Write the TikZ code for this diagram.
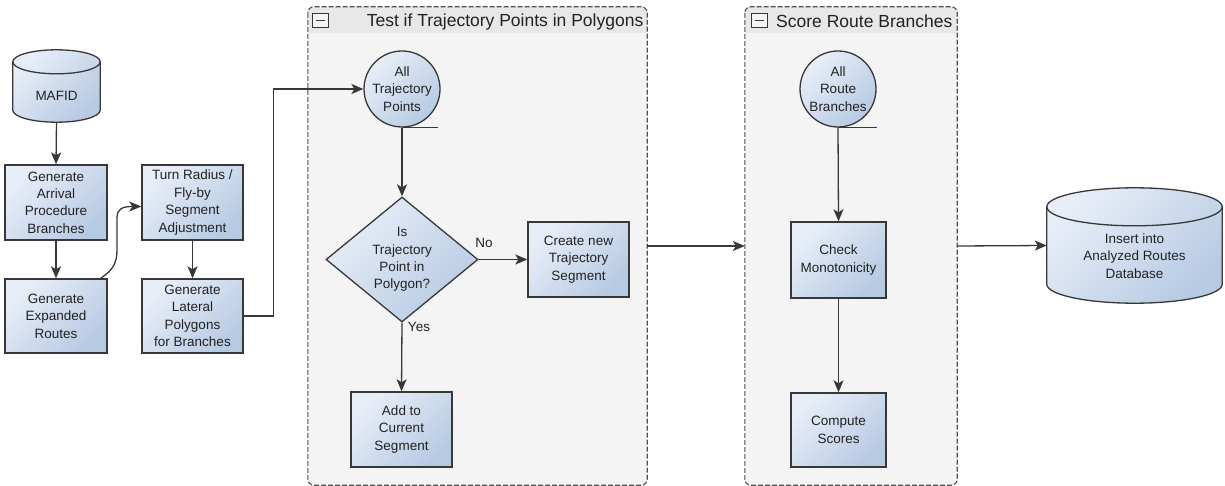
\documentclass[tikz,border=0pt]{standalone}
\usepackage{fontspec}
\setmainfont{Liberation Sans}
\usetikzlibrary{arrows.meta,shapes.geometric,calc}

\definecolor{ink}{HTML}{383838}
\definecolor{txt}{HTML}{222222}
\definecolor{fillA}{HTML}{E8EEF8}
\definecolor{fillB}{HTML}{B7CAE3}
\definecolor{grpbody}{HTML}{F4F4F4}
\definecolor{grphead}{HTML}{E8E8E8}
\definecolor{grpline}{HTML}{505050}

\tikzset{
  txtfont/.style={font=\fontsize{13.5}{17.4}\selectfont, text=txt},
  titlefont/.style={font=\fontsize{17.5}{20}\selectfont, text=txt, inner sep=0pt},
  shaded/.style={top color=fillA, bottom color=fillB, shading angle=45},
  procbox/.style={draw=ink, line width=1.4pt, shaded, txtfont, align=center,
    minimum width=101, minimum height=75, inner sep=0pt},
  datacirc/.style={circle, draw=ink, line width=1.3pt, shaded, txtfont, align=center,
    minimum size=76, inner sep=0pt},
  decision/.style={diamond, draw=ink, line width=1.3pt, shaded, txtfont, align=center,
    minimum width=152, minimum height=125, inner sep=0pt, aspect=1.216},
  cylarea/.style={minimum width=#1, inner sep=0pt},
  cylbody/.style={draw=ink, line width=1.3pt, shaded},
  grparea/.style={minimum width=#1, minimum height=478, inner sep=0pt},
  grpframe/.style={draw=grpline, line width=1.1pt, dash pattern=on 5pt off 2pt, rounded corners=6pt},
  minusbox/.style={draw=ink, line width=0.9pt, fill=grpbody, minimum width=16, minimum height=14,
    inner sep=0pt,
    path picture={\draw[ink, line width=1.8pt]
      ([xshift=-4.5pt]path picture bounding box.center) -- ([xshift=4.5pt]path picture bounding box.center);}},
  flow/.style={draw=ink, line width=1.3pt, -{Stealth[length=12pt,width=10pt,inset=3pt]}},
  tail/.style={draw=ink, line width=1.3pt},
}

% cylinder outline around a named area node; #2 is the radius of the end ellipses (pt)
\newcommand\cylshape[2]{%
  \path let \p1=(#1.north west), \p2=(#1.south east), \n1={(\x2-\x1)/2} in
    [cylbody] (\x1,\y1-#2pt) -- (\x1,\y2+#2pt)
      arc[start angle=180,end angle=360,x radius=\n1,y radius=#2pt]
      -- (\x2,\y1-#2pt)
      arc[start angle=0,end angle=180,x radius=\n1,y radius=#2pt] -- cycle;
  \path let \p1=(#1.north west), \p2=(#1.south east), \n1={(\x2-\x1)/2} in
    [draw=ink, line width=1.3pt] (\x1,\y1-#2pt)
      arc[start angle=180,end angle=360,x radius=\n1,y radius=#2pt];
}

\begin{document}
\begin{tikzpicture}[x=1pt,y=1pt]
\useasboundingbox (0,0) rectangle (1225,-486);

% ---- group containers ----
\node[grparea=339] (g1) at (477.5,-246) {};
\node[grparea=212] (g2) at (851,-246) {};
\foreach \g in {g1,g2}{
  \fill[grpbody, rounded corners=6pt] (\g.north west) rectangle (\g.south east);
  \begin{scope}
    \clip[rounded corners=6pt] (\g.north west) rectangle (\g.south east);
    \fill[grphead] (\g.north west) rectangle ([yshift=-26pt]\g.north east);
  \end{scope}
  \draw[grpframe] (\g.north west) rectangle (\g.south east);
}
\node[minusbox] (g1m) at (320.5,-20.5) {};
\node[minusbox] (g2m) at (759,-20.5) {};
\node[titlefont, anchor=east] (g1t) at (643.5,-21.5) {Test if Trajectory Points in Polygons};
\node[titlefont, anchor=east] (g2t) at (952.5,-21.5) {Score Route Branches};

% ---- left column ----
\node[cylarea=87, minimum height=72] (mafid) at (56.5,-86) {};
\cylshape{mafid}{12}
\node[txtfont] (mafidtxt) at ([yshift=-10pt]mafid.center) {MAFID};

\node[procbox, minimum width=102] (arr) at (56,-202.5) {Generate\\Arrival\\Procedure\\Branches};
\node[procbox, minimum width=102, minimum height=74] (exp) at (56,-316) {Generate\\Expanded\\Routes};
\node[procbox] (turn) at (192.5,-202.5) {Turn Radius /\\Fly-by\\Segment\\Adjustment};
\node[procbox, minimum height=74] (lat) at (192.5,-316) {Generate\\Lateral\\Polygons\\for Branches};

% ---- trajectory test ----
\node[datacirc] (ctp) at (402,-89) {All\\Trajectory\\Points};
\node[decision] (dia) at (402,-259.5) {Is\\Trajectory\\Point in\\Polygon?};
\node[procbox] (create) at (578.5,-259.5) {Create new\\Trajectory\\Segment};
\node[procbox] (add) at (401.5,-429.5) {Add to\\Current\\Segment};

% ---- scoring ----
\node[datacirc] (crb) at (838,-89) {All\\Route\\Branches};
\node[procbox, minimum width=95, minimum height=76] (check) at (838.5,-260) {Check\\Monotonicity};
\node[procbox, minimum width=95, minimum height=74] (comp) at (838.5,-430) {Compute\\Scores};

% ---- output database ----
\node[cylarea=175, minimum height=115] (db) at (1134.5,-245.5) {};
\cylshape{db}{19}
\node[txtfont, align=center] (dbtxt) at ([yshift=-10.5pt]db.center) {Insert into\\Analyzed Routes\\Database};

% ---- connectors ----
\draw[flow] (mafid.south) -- (arr.north);
\draw[flow] (arr.south) -- (exp.north);
\draw[flow] (turn.south) -- (lat.north);
\draw[flow] ([xshift=-7pt]exp.north east) .. controls (113,-270) and (117,-263) .. (117,-250)
  -- (117,-218) .. controls (117,-209) and (122,-206.5) .. ([yshift=-4pt]turn.west);
\draw[flow] (lat.east) -- ++(30,0) |- (ctp.west);

\draw[tail] (ctp.south) -- ++(36,0);
\draw[flow] (ctp.south) -- (dia.north);
\draw[flow] (dia.east) -- (create.west);
\draw[flow] (dia.south) -- (add.north);
\node[txtfont] (lno) at (484,-243) {No};
\node[txtfont] (lyes) at (419,-327) {Yes};

\draw[flow] (g1.east) -- (g2.west);

\draw[tail] (crb.south) -- ++(39,0);
\draw[flow] (crb.south) -- (check.north);
\draw[flow] (check.south) -- (comp.north);

\draw[flow] (g2.east) -- (db.west);
\end{tikzpicture}
\end{document}
